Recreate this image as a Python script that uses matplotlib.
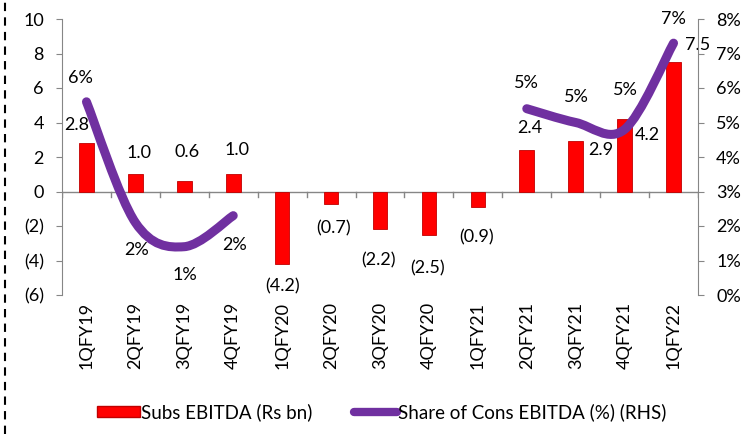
import numpy as np
import matplotlib
matplotlib.use('Agg')
import matplotlib.pyplot as plt
from matplotlib.path import Path
from matplotlib.patches import PathPatch, Patch
from matplotlib.lines import Line2D
import matplotlib.transforms as mtransforms

plt.rcParams['font.family'] = ['Lato', 'DejaVu Sans']

quarters = ['1QFY19', '2QFY19', '3QFY19', '4QFY19', '1QFY20', '2QFY20', '3QFY20',
            '4QFY20', '1QFY21', '2QFY21', '3QFY21', '4QFY21', '1QFY22']
subs_ebitda = [2.8, 1.0, 0.6, 1.0, -4.2, -0.7, -2.2, -2.5, -0.9, 2.4, 2.9, 4.2, 7.5]
share_pct = [5.6, 2.1, 1.4, 2.3, None, None, None, None, None, 5.4, 5.0, 4.8, 7.3]

# label offsets in pixels (dx, dy)
bar_lbl_off = [(-10, 18), (4, 21), (3, 29), (4, 24), (0, -22), (2, -25), (-1, -31),
               (-1, -34), (-1, -30), (3, 22), (25, -9), (23, -16), (24, 17)]
line_lbl_off = [(-6, 24), (1, -27), (1, -28), (1, -29), None, None, None, None, None,
                (0, 26), (1, 25), (1, 39), (0, 24)]

RED = '#FF0000'
PURPLE = '#7030A0'
GREY = '#868686'
FS = 13


def fmt_bar(v):
    return '(%.1f)' % abs(v) if v < 0 else '%.1f' % v


def smooth_path(xs, ys):
    # Excel style smoothed line: cubic bezier through the points
    pts = np.column_stack([xs, ys])
    n = len(pts)
    verts = [pts[0]]
    codes = [Path.MOVETO]
    for i in range(n - 1):
        p0 = pts[i - 1] if i > 0 else pts[i]
        p1 = pts[i]
        p2 = pts[i + 1]
        p3 = pts[i + 2] if i + 2 < n else pts[i + 1]
        c1 = p1 + (p2 - p0) / 6.0
        c2 = p2 - (p3 - p1) / 6.0
        verts += [c1, c2, p2]
        codes += [Path.CURVE4] * 3
    return Path(verts, codes)


fig = plt.figure(figsize=(7.44, 4.34), dpi=100)
ax = fig.add_axes([62 / 744, 1 - 295 / 434, 636 / 744, 276 / 434])
ax2 = ax.twinx()

x = np.arange(len(quarters))
ax.bar(x, subs_ebitda, width=0.3, color=RED, edgecolor='#C00000', linewidth=0.6, zorder=2)
ax.set_xlim(-0.5, len(quarters) - 0.5)
ax.set_ylim(-6, 10)
ax.set_yticks(range(-6, 11, 2))
ax.set_yticklabels(['(%d)' % abs(t) if t < 0 else '%d' % t for t in range(-6, 11, 2)],
                   fontsize=FS)

ax2.set_ylim(0, 8)
ax2.set_yticks(range(0, 9))
ax2.set_yticklabels(['%d%%' % t for t in range(0, 9)], fontsize=FS)

for a in (ax, ax2):
    for s in ('top', 'bottom'):
        a.spines[s].set_visible(False)
    a.spines['left'].set_color(GREY)
    a.spines['right'].set_color(GREY)
    a.tick_params(axis='y', colors=GREY, length=4, labelcolor='black', pad=9)
ax2.spines['left'].set_visible(False)
ax.spines['right'].set_visible(False)

# category axis at zero with tick marks at category boundaries
ax.axhline(0, color=GREY, linewidth=1, zorder=1)
ax.set_xticks([])
for b in np.arange(-0.5, len(quarters), 1.0):
    ax.add_line(Line2D([b, b], [0, -0.3], color=GREY, lw=1))

lbl_tr = mtransforms.blended_transform_factory(ax.transData, ax.transAxes)
for i, q in enumerate(quarters):
    ax.text(i, -0.025, q, rotation=90, ha='center', va='top', fontsize=FS,
            transform=lbl_tr)

# smoothed share line, split at gaps
segments = []
seg_x, seg_y = [], []
for i, v in enumerate(share_pct):
    if v is None:
        if seg_x:
            segments.append((seg_x, seg_y))
        seg_x, seg_y = [], []
    else:
        seg_x.append(i)
        seg_y.append(v)
if seg_x:
    segments.append((seg_x, seg_y))
for sx, sy in segments:
    ax2.add_patch(PathPatch(smooth_path(sx, sy), facecolor='none', edgecolor=PURPLE,
                            lw=6.5, capstyle='round', joinstyle='round', zorder=3))

# data labels
for i, v in enumerate(subs_ebitda):
    dx, dy = bar_lbl_off[i]
    ax.annotate(fmt_bar(v), (i, v), xytext=(dx, dy), textcoords='offset pixels',
                ha='center', va='center', fontsize=FS, zorder=5)
for i, v in enumerate(share_pct):
    if v is None:
        continue
    dx, dy = line_lbl_off[i]
    ax2.annotate('%d%%' % round(v), (i, v), xytext=(dx, dy), textcoords='offset pixels',
                 ha='center', va='center', fontsize=FS, zorder=5)

# legend
handles = [Patch(facecolor=RED, edgecolor='#C00000'),
           Line2D([0], [0], color=PURPLE, lw=6, solid_capstyle='round')]
fig.legend(handles, ['Subs EBITDA (Rs bn)', 'Share of Cons EBITDA (%) (RHS)'],
           loc='center', bbox_to_anchor=(0.513, 1 - 412 / 434), ncol=2, frameon=False,
           fontsize=13.5, handlelength=2.3, handleheight=0.5, handletextpad=0.05,
           columnspacing=2.2)

# dashed border on the left
fig.add_artist(Line2D([5 / 744, 5 / 744], [0, 1], color='black', lw=1.5,
                      linestyle=(0, (4, 3)), transform=fig.transFigure))

fig.savefig('out.png', dpi=100)
